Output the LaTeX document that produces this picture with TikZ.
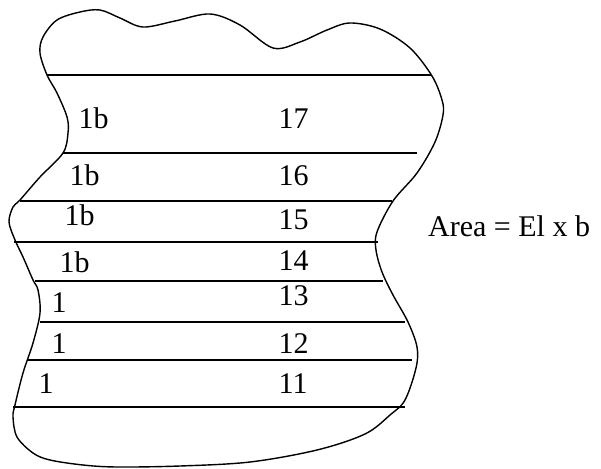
\documentclass[tikz,border=0pt]{standalone}
\usepackage{fontspec}
\setmainfont{Liberation Serif}
\begin{document}
\begin{tikzpicture}[x=1pt,y=-1pt,
  lbl/.style={anchor=base west,inner sep=0pt,font=\fontsize{30}{36}\selectfont},
  outline/.style={line width=1.4pt},
  stripe/.style={line width=1.4pt}]
\useasboundingbox (0,0) rectangle (601,468);
% outline of the irregular area
\draw[outline] plot[smooth cycle, tension=0.55] coordinates {
 (43,37) (57,20) (80,12) (100,10) (120,18) (143,27) (175,21) (210,14)
 (240,25) (273,48) (300,42) (327,30) (350,23) (380,29) (410,48) (432,76)
 (442,100) (443,115) (435,142) (417,173) (393,201) (377,232) (376,250)
 (382,272) (393,295) (408,322) (417,347) (416,368) (405,400) (390,415)
 (365,434) (317,450) (250,462) (180,466) (117,467) (83,465) (50,460)
 (33,453) (17,437) (13,417) (15,405) (23,373) (33,343) (40,313) (38,290)
 (33,280) (23,257) (15,240) (9,222) (13,207) (20,200) (40,177) (63,153)
 (68,133) (67,117) (57,93) (47,75) (40,53)};
% horizontal strips
\draw[stripe] (47,75) -- (431,75);
\draw[stripe] (63,153) -- (417,153);
\draw[stripe] (20,201) -- (392,201);
\draw[stripe] (14,242) -- (378,242);
\draw[stripe] (35,281) -- (383,281);
\draw[stripe] (40,322) -- (405,322);
\draw[stripe] (28,360) -- (412,360);
\draw[stripe] (13,407) -- (405,407);
% labels
\node[lbl] (a17) at (78.5,128) {1b};
\node[lbl] (b17) at (278.5,128) {17};
\node[lbl] (a16) at (69.5,185) {1b};
\node[lbl] (b16) at (278.5,185) {16};
\node[lbl] (a15) at (64.5,225) {1b};
\node[lbl] (b15) at (278.5,229) {15};
\node[lbl] (a14) at (59.5,272) {1b};
\node[lbl] (b14) at (278.5,270) {14};
\node[lbl] (a13) at (51.5,312) {1};
\node[lbl] (b13) at (278.5,305) {13};
\node[lbl] (a12) at (51.5,353) {1};
\node[lbl] (b12) at (278.5,353) {12};
\node[lbl] (a11) at (38.5,393) {1};
\node[lbl] (b11) at (278.5,393) {11};
\node[lbl] (area) at (428,236) {Area = El x b};
\end{tikzpicture}
\end{document}
